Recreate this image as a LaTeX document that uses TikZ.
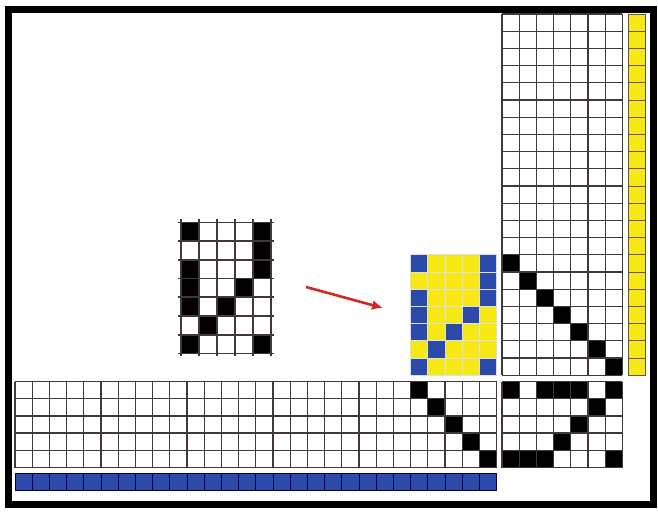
\documentclass[tikz,border=0pt]{standalone}
\usepackage{xcolor}
\usepackage{tikz}
\usetikzlibrary{arrows.meta,calc}
\definecolor{cellyellow}{RGB}{246,232,20}
\definecolor{cellblue}{RGB}{44,74,170}
\definecolor{gridgray}{RGB}{66,56,56}
\definecolor{arrowred}{RGB}{212,40,40}
\newcommand{\cs}{17.2}
\newcommand{\drawgrid}[7]{%
  \foreach \i in {0,...,#3} \draw[#7] (#1+\i*#5,#2) -- ++(0,#4*#6);
  \foreach \j in {0,...,#4} \draw[#7] (#1,#2+\j*#6) -- ++(#3*#5,0);
}

\begin{document}
\begin{tikzpicture}[x=1pt,y=-1pt,>=Latex,
  gridline/.style={gridgray,line width=1.35pt},
  paleline/.style={white!75!gray,line width=0.9pt},
  oliveline/.style={gray!70!black,line width=0.7pt},
  navyline/.style={blue!25!black,line width=0.9pt}]
  \useasboundingbox (0,0) rectangle (658,518);
  \fill[white] (0,0) rectangle (658,518);
  \draw[line width=7.5pt] (8.5,9.5) rectangle (653.5,504.5);

  \foreach \r/\c in {0/0,0/4,1/4,2/0,2/4,3/0,3/3,4/0,4/2,5/1,6/0,6/4}
    \fill (181+\c*18,222.5+\r*18.7) rectangle ++(18,18.7);
  \foreach \i in {0,...,5} \draw[gridline,line width=1.6pt] (181+\i*18,219.5) -- ++(0,136.9);
  \foreach \j in {0,...,7} \draw[gridline,line width=1.6pt] (178,222.5+\j*18.7) -- ++(96,0);

  \fill[cellyellow] (410.6,254.8) rectangle ++(5*\cs,7*\cs);
  \foreach \r/\c in {0/0,0/4,1/4,2/0,2/4,3/0,3/3,4/0,4/2,5/1,6/0,6/4}
    \fill[cellblue] (410.6+\c*\cs,254.8+\r*\cs) rectangle ++(\cs,\cs);
  \drawgrid{410.6}{254.8}{5}{7}{\cs}{\cs}{paleline}

  \foreach \k in {0,...,6}
    \fill (502+\k*\cs,14+14*\cs+\k*\cs) rectangle ++(\cs,\cs);
  \drawgrid{502}{14}{7}{21}{\cs}{\cs}{gridline}

  \fill[cellyellow] (628,14) rectangle ++(17.5,21*\cs);
  \drawgrid{628}{14}{1}{21}{17.5}{\cs}{oliveline}

  \foreach \k in {0,...,4}
    \fill (15+23*\cs+\k*\cs,381.5+\k*\cs) rectangle ++(\cs,\cs);
  \drawgrid{15}{381.5}{28}{5}{\cs}{\cs}{gridline}

  \foreach \r/\c in {0/0,0/2,0/3,0/4,0/6,1/5,2/4,3/3,4/0,4/1,4/2,4/6}
    \fill (502+\c*\cs,381.5+\r*\cs) rectangle ++(\cs,\cs);
  \drawgrid{502}{381.5}{7}{5}{\cs}{\cs}{gridline}

  \fill[cellblue] (15,473) rectangle ++(28*\cs,17);
  \drawgrid{15}{473}{28}{1}{\cs}{17}{navyline}

  \coordinate (arrowtail) at (306,287);
  \coordinate (arrowhead) at (383,308);
  \draw[-{Latex[length=11pt,width=10pt]},arrowred,line width=2.6pt] (arrowtail) -- (arrowhead);
\end{tikzpicture}
\end{document}
